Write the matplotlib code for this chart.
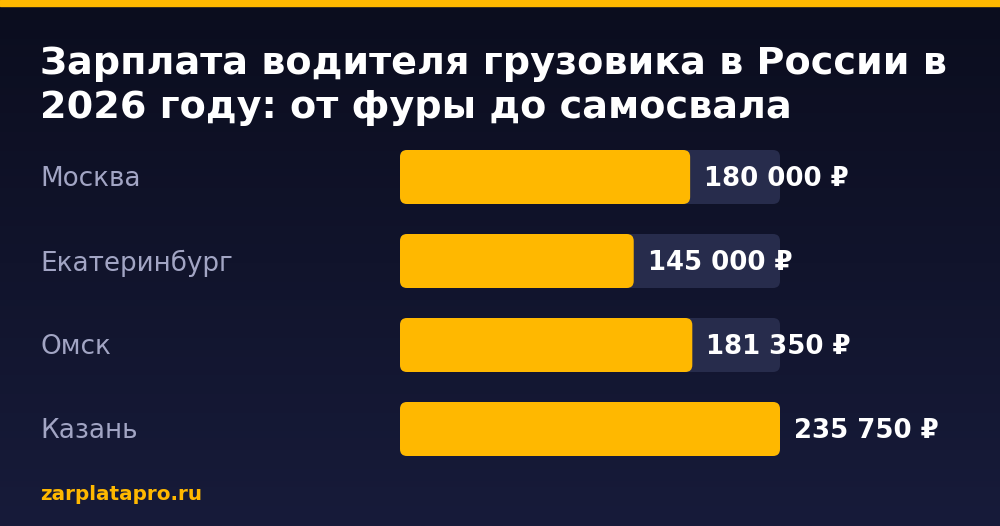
import matplotlib
matplotlib.use("Agg")
import matplotlib.pyplot as plt
import numpy as np
from matplotlib.patches import FancyBboxPatch, Rectangle

cities = ["Москва", "Екатеринбург", "Омск", "Казань"]
salaries = [180000, 145000, 181350, 235750]
value_labels = ["180 000 ₽", "145 000 ₽", "181 350 ₽", "235 750 ₽"]
title = "Зарплата водителя грузовика в России в\n2026 году: от фуры до самосвала"
source = "zarplatapro.ru"

W, H = 1000, 526
fig = plt.figure(figsize=(W / 100, H / 100), dpi=100)
ax = fig.add_axes([0, 0, 1, 1])
ax.set_xlim(0, W)
ax.set_ylim(H, 0)
ax.axis("off")

# background gradient
grad = np.linspace(0, 1, 256).reshape(-1, 1)
top = np.array([11, 13, 30]) / 255
bot = np.array([23, 27, 58]) / 255
img = top + (bot - top) * grad[..., None]
ax.imshow(img, extent=[0, W, H, 0], aspect="auto", zorder=0)

# top stripe
ax.add_patch(Rectangle((0, 0), W, 6, color="#FFB800", zorder=1))

ax.text(40, 86, title, color="white", fontsize=27.45, fontweight="bold",
        va="center", ha="left", linespacing=1.3, zorder=3)

x0, track_w, bar_h = 400, 380, 54
row0, step = 177, 84
vmax = max(salaries)
for i, (city, val, lab) in enumerate(zip(cities, salaries, value_labels)):
    yc = row0 + i * step
    ax.text(40, yc + 2, city, color="#a2a5c4", fontsize=18.9,
            va="center", ha="left", zorder=3)
    ax.add_patch(FancyBboxPatch((x0, yc - bar_h / 2), track_w, bar_h,
                                boxstyle="round,pad=0,rounding_size=7",
                                fc="#272c4c", ec="none", zorder=2))
    w = val / vmax * track_w
    ax.add_patch(FancyBboxPatch((x0, yc - bar_h / 2), w, bar_h,
                                boxstyle="round,pad=0,rounding_size=7",
                                fc="#FFB800", ec="none", zorder=2.5))
    ax.text(x0 + w + 14, yc + 1.5, lab, color="white", fontsize=18.7,
            fontweight="bold", va="center", ha="left", zorder=3)

ax.text(40, 494, source, color="#FFB800", fontsize=14.4, fontweight="bold",
        va="center", ha="left", zorder=3)

fig.savefig("out.png", dpi=100)
